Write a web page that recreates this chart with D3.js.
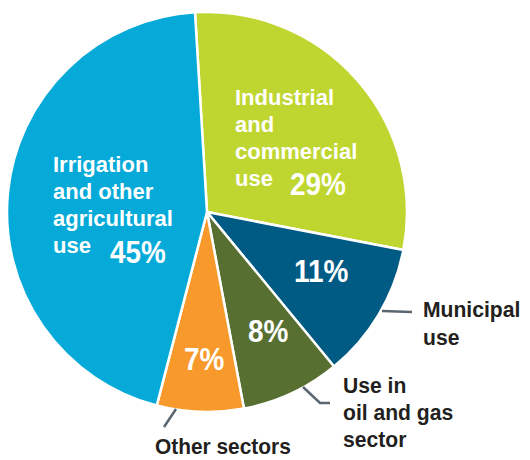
<!DOCTYPE html>
<html>
<head>
<meta charset="utf-8">
<script src="https://cdn.jsdelivr.net/npm/d3@7"></script>
<style>
  body { margin: 0; background: #fff; }
  text { font-family: "Liberation Sans", Arial, sans-serif; font-weight: bold; }
</style>
</head>
<body>
<div id="chart"></div>
<script>
// water use shares, clockwise from the top
var categories = ["Industrial and commercial use", "Municipal use", "Use in oil and gas sector", "Other sectors", "Irrigation and other agricultural use"];
var values = [29, 11, 8, 7, 45];
var colors = ["#bfd630", "#005b84", "#586f32", "#f7992b", "#05aad8"];

var width = 530, height = 460;
var center = {x: 207, y: 212};
var radius = 200;

var svg = d3.select("#chart").append("svg")
    .attr("width", width)
    .attr("height", height);

var pie = d3.pie()
    .sort(null)
    .startAngle(-0.06)
    .endAngle(2 * Math.PI - 0.06)
    .value(function(d) { return d; });

var arc = d3.arc().innerRadius(0).outerRadius(radius);

var slices = svg.append("g")
    .attr("transform", "translate(" + center.x + "," + center.y + ")");

slices.selectAll("path")
    .data(pie(values))
    .enter().append("path")
    .attr("d", arc)
    .attr("fill", function(d, i) { return colors[i]; })
    .attr("stroke", "#fff")
    .attr("stroke-width", 2.5);

// stacked lines of text, slightly condensed
function lines(g, x, y0, step, arr, size, fill, sx) {
    arr.forEach(function(t, i) {
        g.append("text")
            .attr("transform", "translate(" + x + "," + (y0 + i * step) + ") scale(" + (sx || 1) + ",1)")
            .attr("font-size", size)
            .attr("fill", fill)
            .text(t);
    });
}

var labels = svg.append("g");
lines(labels, 53, 172, 27, ["Irrigation", "and other", "agricultural", "use"], 22, "#fff");
lines(labels, 235, 105, 27, ["Industrial", "and", "commercial", "use"], 22, "#fff");

var pct = [
    {t: values[4] + "%", x: 110, y: 263},
    {t: values[0] + "%", x: 290, y: 195},
    {t: values[1] + "%", x: 294, y: 282},
    {t: values[2] + "%", x: 248, y: 342},
    {t: values[3] + "%", x: 184, y: 370}
];
pct.forEach(function(d) {
    lines(labels, d.x, d.y, 0, [d.t], 31, "#fff", 0.9);
});

// outside labels with leader lines
var ink = "#231f20";
lines(labels, 423, 317, 28, ["Municipal", "use"], 22, ink, 0.96);
lines(labels, 343, 393, 27, ["Use in", "oil and gas", "sector"], 22, ink, 0.96);
lines(labels, 155, 454, 27, ["Other sectors"], 22, ink, 0.95);

var leader = svg.append("g")
    .attr("fill", "none")
    .attr("stroke", "#5b6670")
    .attr("stroke-width", 2.5);
leader.append("path").attr("d", "M382,311 L412,312");
leader.append("path").attr("d", "M303,387 L320,403 L330,403");
leader.append("path").attr("d", "M176,409 L164,427");
</script>
</body>
</html>
